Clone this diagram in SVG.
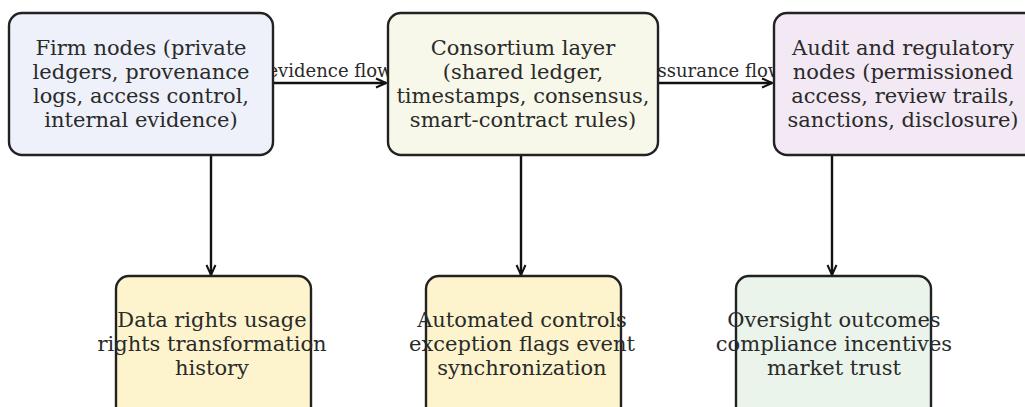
<svg xmlns="http://www.w3.org/2000/svg" width="1025" height="407" viewBox="0 0 1025 407">
  <defs>
    <marker id="arrow" viewBox="0 0 12 12" refX="11" refY="6" markerWidth="12" markerHeight="12" markerUnits="userSpaceOnUse" orient="auto">
      <path d="M1,1.5 L11,6 L1,10.5" fill="none" stroke="#111" stroke-width="2"/>
    </marker>
    <style>
      .box { stroke: #222; stroke-width: 2.4; }
      .lbl { font-family: "DejaVu Serif", serif; font-size: 21px; fill: #2a2a2a; text-anchor: middle; }
      .edge { font-family: "DejaVu Serif", serif; font-size: 18px; fill: #2a2a2a; text-anchor: middle; }
      .conn { stroke: #111; stroke-width: 2.4; fill: none; marker-end: url(#arrow); }
    </style>
  </defs>
  <rect width="1025" height="407" fill="#fff"/>

  <g id="connectors">
    <line class="conn" x1="273" y1="83" x2="386" y2="83"/>
    <line class="conn" x1="658" y1="83" x2="772" y2="83"/>
    <line class="conn" x1="211" y1="155" x2="211" y2="275"/>
    <line class="conn" x1="521" y1="155" x2="521" y2="275"/>
    <line class="conn" x1="832" y1="155" x2="832" y2="275"/>
    <text class="edge" x="330" y="77">evidence flow</text>
    <text class="edge" x="715" y="77">assurance flow</text>
  </g>

  <g id="firm-nodes">
    <rect class="box" x="9" y="13" width="264" height="142" rx="13" fill="#eef1fa"/>
    <text class="lbl" x="141" y="55">Firm nodes (private</text>
    <text class="lbl" x="141" y="79">ledgers, provenance</text>
    <text class="lbl" x="141" y="103">logs, access control,</text>
    <text class="lbl" x="141" y="127">internal evidence)</text>
  </g>

  <g id="consortium-layer">
    <rect class="box" x="388" y="13" width="270" height="142" rx="13" fill="#f7f8e9"/>
    <text class="lbl" x="523" y="55">Consortium layer</text>
    <text class="lbl" x="523" y="79">(shared ledger,</text>
    <text class="lbl" x="523" y="103">timestamps, consensus,</text>
    <text class="lbl" x="523" y="127">smart-contract rules)</text>
  </g>

  <g id="audit-nodes">
    <rect class="box" x="774" y="13" width="270" height="142" rx="13" fill="#f2e9f5"/>
    <text class="lbl" x="903" y="55">Audit and regulatory</text>
    <text class="lbl" x="903" y="79">nodes (permissioned</text>
    <text class="lbl" x="903" y="103">access, review trails,</text>
    <text class="lbl" x="903" y="127">sanctions, disclosure)</text>
  </g>

  <g id="data-rights">
    <rect class="box" x="116" y="276" width="195" height="150" rx="13" fill="#fdf4cd"/>
    <text class="lbl" x="212" y="327">Data rights usage</text>
    <text class="lbl" x="212" y="351">rights transformation</text>
    <text class="lbl" x="212" y="375">history</text>
  </g>

  <g id="automated-controls">
    <rect class="box" x="426" y="276" width="195" height="150" rx="13" fill="#fdf4cd"/>
    <text class="lbl" x="522" y="327">Automated controls</text>
    <text class="lbl" x="522" y="351">exception flags event</text>
    <text class="lbl" x="522" y="375">synchronization</text>
  </g>

  <g id="oversight-outcomes">
    <rect class="box" x="736" y="276" width="195" height="150" rx="13" fill="#eaf4ea"/>
    <text class="lbl" x="834" y="327">Oversight outcomes</text>
    <text class="lbl" x="834" y="351">compliance incentives</text>
    <text class="lbl" x="834" y="375">market trust</text>
  </g>
</svg>
